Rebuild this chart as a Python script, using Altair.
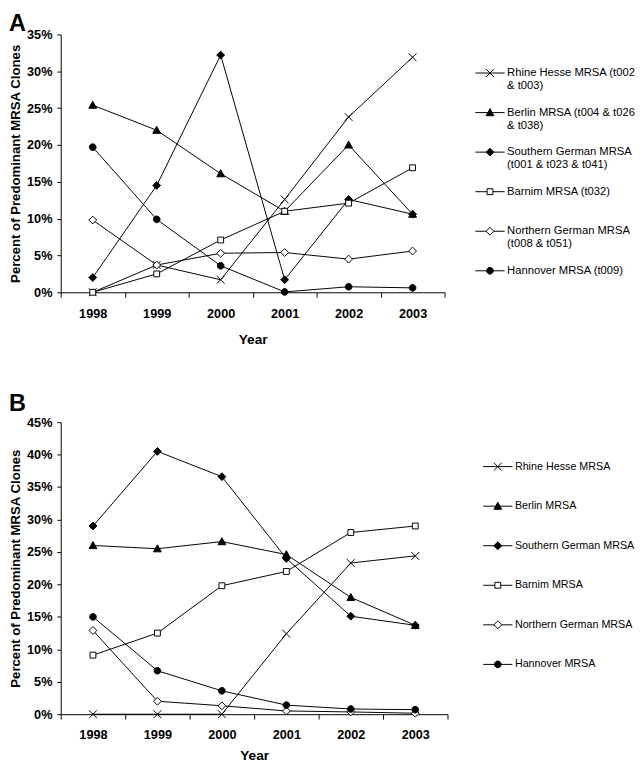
import altair as alt
import pandas as pd

years = ["1998", "1999", "2000", "2001", "2002", "2003"]

series_a = [
    "Rhine Hesse MRSA (t002\n& t003)",
    "Berlin MRSA (t004 & t026\n& t038)",
    "Southern German MRSA\n(t001 & t023 & t041)",
    "Barnim MRSA (t032)",
    "Northern German MRSA\n(t008 & t051)",
    "Hannover MRSA (t009)",
]
series_b = [
    "Rhine Hesse MRSA",
    "Berlin MRSA",
    "Southern German MRSA",
    "Barnim MRSA",
    "Northern German MRSA",
    "Hannover MRSA",
]

# Panel A values (percent)
a_rhine = [0.0, 3.7, 1.7, 12.6, 23.8, 31.9]
a_berlin = [25.4, 22.0, 16.1, 11.0, 20.0, 10.6]
a_southern = [2.0, 14.5, 32.2, 1.7, 12.6, 10.6]
a_barnim = [0.0, 2.5, 7.1, 11.0, 12.1, 16.9]
a_northern = [9.8, 3.7, 5.3, 5.4, 4.5, 5.6]
a_hannover = [19.7, 9.9, 3.6, 0.05, 0.75, 0.6]

# Panel B values (percent)
b_rhine = [0.0, 0.0, 0.0, 12.4, 23.3, 24.4]
b_berlin = [26.0, 25.5, 26.6, 24.6, 18.0, 13.7]
b_southern = [29.0, 40.5, 36.6, 24.0, 15.1, 13.7]
b_barnim = [9.1, 12.5, 19.8, 22.0, 28.0, 29.0]
b_northern = [12.9, 2.0, 1.3, 0.5, 0.35, 0.15]
b_hannover = [15.0, 6.7, 3.6, 1.4, 0.8, 0.7]

# marker shapes (plot) and line+marker shapes (legend)
marker_shapes = [
    "M-1,-1L1,1M-1,1L1,-1",
    "M0,-1L1,0.8L-1,0.8Z",
    "M0,-1L1,0L0,1L-1,0Z",
    "M-0.75,-0.75H0.75V0.75H-0.75Z",
    "M0,-1L1,0L0,1L-1,0Z",
    "M0.85,0A0.85,0.85,0,1,1,-0.85,0A0.85,0.85,0,1,1,0.85,0Z",
]
legend_shapes = [
    "M-1,0H1M-0.267,-0.267L0.267,0.267M-0.267,0.267L0.267,-0.267",
    "M-1,0H1M0,-0.267L0.267,0.213L-0.267,0.213Z",
    "M-1,0H1M0,-0.267L0.267,0L0,0.267L-0.267,0Z",
    "M-1,0H-0.2M0.2,0H1M-0.2,-0.2H0.2V0.2H-0.2Z",
    "M-1,0H-0.267M0.267,0H1M0,-0.267L0.267,0L0,0.267L-0.267,0Z",
    "M-1,0H1M0.227,0A0.227,0.227,0,1,1,-0.227,0A0.227,0.227,0,1,1,0.227,0Z",
]
fills = ["black", "black", "black", "white", "white", "black"]
strokes = ["black"] * 6

FONT = "Liberation Sans"


def make_df(names, values):
    rows = []
    for name, vals in zip(names, values):
        for yr, v in zip(years, vals):
            rows.append({"series": name, "year": yr, "value": v})
    return pd.DataFrame(rows)


def panel(letter, names, values, ymax, width, height, legend_x, legend_y,
          label_size, row_pad, lab_pad, title_pad, title_off):
    df = make_df(names, values)
    base = alt.Chart(df)
    x = alt.X(
        "year:O",
        sort=years,
        scale=alt.Scale(type="band", paddingInner=0, paddingOuter=0),
        axis=alt.Axis(
            title="Year",
            labelAngle=0,
            tickBand="extent",
            tickSize=5,
            labelPadding=lab_pad,
            titlePadding=title_pad,
        ),
    )
    y = alt.Y(
        "value:Q",
        scale=alt.Scale(domain=[0, ymax], nice=False),
        axis=alt.Axis(
            title="Percent of Predominant MRSA Clones",
            values=list(range(0, ymax + 1, 5)),
            labelExpr="datum.value + '%'",
            tickSize=4,
            labelPadding=5,
            titlePadding=4,
        ),
    )
    lines = base.mark_line(color="black", strokeWidth=1).encode(
        x=x, y=y, detail="series:N"
    )
    points = base.mark_point(
        size=64, filled=True, stroke="black", strokeWidth=1, opacity=1
    ).encode(
        x=x,
        y=y,
        shape=alt.Shape("series:N", scale=alt.Scale(domain=names, range=marker_shapes), legend=None),
        fill=alt.Fill("series:N", scale=alt.Scale(domain=names, range=fills), legend=None),
    )
    leg = alt.Legend(
        title=None,
        orient="none",
        legendX=legend_x,
        legendY=legend_y,
        direction="vertical",
        symbolSize=900,
        symbolStrokeWidth=1,
        symbolStrokeColor="black",
        labelFont=FONT,
        labelFontSize=label_size,
        labelColor="black",
        labelOffset=2,
        labelLimit=400,
        labelExpr="split(datum.label, '\\n')",
        rowPadding=row_pad,
        gridAlign="all",
        padding=0,
    )
    legend_layer = base.mark_point(
        size=900, filled=True, strokeWidth=1, opacity=1
    ).encode(
        x=x,
        y=y,
        shape=alt.Shape("series:N", scale=alt.Scale(domain=names, range=legend_shapes), legend=leg),
        fill=alt.Fill("series:N", scale=alt.Scale(domain=names, range=fills), legend=leg),
        stroke=alt.Stroke("series:N", scale=alt.Scale(domain=names, range=strokes), legend=leg),
    ).transform_filter("false")
    return (
        alt.layer(lines, points, legend_layer)
        .resolve_scale(shape="independent", fill="independent", stroke="independent")
        .properties(
            width=width,
            height=height,
            title=alt.TitleParams(
                letter, anchor="start", frame="bounds", font=FONT,
                fontSize=24, fontWeight="bold", color="black", offset=title_off,
            ),
        )
    )


chart_a = panel(
    "A", series_a,
    [a_rhine, a_berlin, a_southern, a_barnim, a_northern, a_hannover],
    35, 393, 264, 424, 24, 11.5, 5.5, 11, 12, -7,
)
chart_b = panel(
    "B", series_b,
    [b_rhine, b_berlin, b_southern, b_barnim, b_northern, b_hannover],
    45, 396, 299, 432, 30, 11, 18.5, 10, 7, 0,
)

chart = (
    alt.vconcat(chart_a, chart_b, spacing=48)
    .properties(padding={"left": 0, "top": -5, "right": 0, "bottom": -3})
    .configure_view(stroke=None)
    .configure_axis(
        labelFont=FONT,
        labelFontSize=13,
        labelFontWeight="bold",
        labelColor="black",
        titleFont=FONT,
        titleFontSize=13.5,
        titleFontWeight="bold",
        titleColor="black",
        domainColor="black",
        tickColor="black",
        domainWidth=1,
        tickWidth=1,
        grid=False,
    )
    .configure_axisX(titleFontSize=14)
)

chart.save("out.html", embed_options={"renderer": "svg", "actions": False})
